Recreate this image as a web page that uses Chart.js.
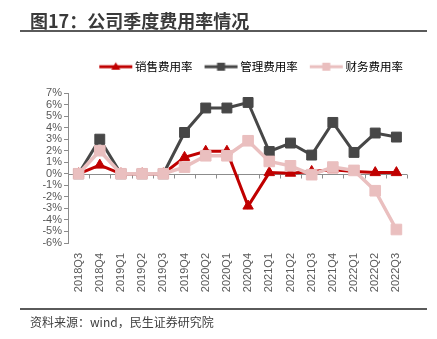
<!DOCTYPE html>
<html>
  <head>
    <meta charset="UTF-8" />
    <script src="https://cdn.jsdelivr.net/npm/chart.js"></script>
  </head>
  <style>
    body {
      margin: 0;
      background: #fff;
      font-family: "Noto Sans CJK SC", "Liberation Sans", sans-serif;
    }
    #wrap {
      position: relative;
      width: 437px;
      height: 339px;
      overflow: hidden;
    }
    #title {
      position: absolute;
      left: 30px;
      top: 8px;
      font-size: 18px;
      font-weight: bold;
      color: #3a3a3a;
      line-height: 24px;
    }
    .rule {
      position: absolute;
      left: 20px;
      width: 407px;
      height: 2px;
      background: #5a5a5a;
    }
    #source {
      position: absolute;
      left: 30px;
      top: 313px;
      font-size: 12px;
      color: #404040;
      line-height: 18px;
    }
    #chartBox {
      position: absolute;
      left: 0;
      top: 0;
      width: 437px;
      height: 339px;
    }
  </style>
  <body>
    <div id="wrap">
      <div id="chartBox"><canvas id="chartLine"></canvas></div>
      <div id="title">图17：公司季度费用率情况</div>
      <div class="rule" style="top: 30px"></div>
      <div class="rule" style="top: 308px"></div>
      <div id="source">资料来源：wind，民生证券研究院</div>
    </div>
    <script>
      const quarters = ["2018Q3", "2018Q4", "2019Q1", "2019Q2", "2019Q3", "2019Q4", "2020Q2", "2020Q1",
        "2020Q4", "2021Q1", "2021Q2", "2021Q3", "2021Q4", "2022Q1", "2022Q2", "2022Q3"];
      const salesRate = [0, 0.75, 0, 0, 0, 1.42, 1.95, 1.95, -2.8, 0.1, 0.05, 0.2, 0.35, 0.2, 0.1, 0.1];
      const adminRate = [0, 3.0, 0, 0, 0, 3.58, 5.7, 5.7, 6.18, 1.93, 2.66, 1.62, 4.45, 1.85, 3.53, 3.18];
      const financeRate = [0, 2.0, 0, 0, 0, 0.58, 1.56, 1.56, 2.86, 1.07, 0.69, -0.08, 0.58, 0.29, -1.47, -4.83];
      const seriesNames = ["销售费用率", "管理费用率", "财务费用率"];

      const red = "#c00000";
      const gray = "#474747";
      const pink = "#eabfbf";

      // little line + marker pictures for the legend
      const legendIcon = (color, shape) => {
        const c = document.createElement("canvas");
        c.width = 46;
        c.height = 14;
        const g = c.getContext("2d");
        g.strokeStyle = color;
        g.fillStyle = color;
        g.lineWidth = 3;
        g.beginPath();
        g.moveTo(12, 7);
        g.lineTo(45, 7);
        g.stroke();
        g.beginPath();
        if (shape == "triangle") {
          g.moveTo(28.5, 2.5);
          g.lineTo(33, 10);
          g.lineTo(24, 10);
          g.closePath();
        } else {
          g.rect(24.5, 3, 8, 8);
        }
        g.fill();
        return c;
      };

      const zeroAxis = {
        id: "zeroAxis",
        beforeDatasetsDraw(chart) {
          const x = chart.scales.x;
          const y0 = Math.round(chart.scales.y.getPixelForValue(0)) + 0.5;
          const ctx = chart.ctx;
          ctx.save();
          ctx.strokeStyle = "#8c8c8c";
          ctx.lineWidth = 1;
          ctx.beginPath();
          ctx.moveTo(x.left, y0);
          ctx.lineTo(x.right, y0);
          const step = (x.right - x.left) / quarters.length;
          for (let i = 0; i <= quarters.length; i++) {
            const px = Math.round(x.left + i * step) + 0.5;
            ctx.moveTo(px, y0);
            ctx.lineTo(px, y0 + 4);
          }
          ctx.stroke();
          ctx.restore();
        },
      };

      const legendSpace = {
        id: "legendSpace",
        afterInit(chart) {
          const fit = chart.legend.fit;
          chart.legend.fit = function () {
            fit.call(this);
            this.height = 36;
          };
        },
      };

      const chartData = {
        labels: quarters,
        datasets: [
          {
            label: seriesNames[0],
            data: salesRate,
            borderColor: red,
            backgroundColor: red,
            borderWidth: 3,
            pointStyle: "triangle",
            pointRadius: 6,
            pointBorderWidth: 1,
            order: 1,
          },
          {
            label: seriesNames[1],
            data: adminRate,
            borderColor: gray,
            backgroundColor: gray,
            borderWidth: 3,
            pointStyle: "rect",
            pointRadius: 7,
            pointBorderWidth: 1,
            order: 2,
          },
          {
            label: seriesNames[2],
            data: financeRate,
            borderColor: pink,
            backgroundColor: pink,
            borderWidth: 3.5,
            pointStyle: "rect",
            pointRadius: 7.5,
            pointBorderWidth: 1,
            order: 0,
          },
        ],
      };

      const icons = [legendIcon(red, "triangle"), legendIcon(gray, "rect"), legendIcon(pink, "rect")];

      const configLineChart = {
        type: "line",
        data: chartData,
        options: {
          responsive: false,
          animation: false,
          layout: { padding: { top: 57, right: 30, bottom: 46, left: 0 } },
          plugins: {
            tooltip: { enabled: false },
            legend: {
              position: "top",
              align: "end",
              labels: {
                usePointStyle: true,
                pointStyleWidth: 38,
                padding: 4,
                color: "#404040",
                font: { family: "Noto Sans CJK SC", size: 11.5 },
                generateLabels: (chart) =>
                  chart.data.datasets.map((ds, i) => ({
                    text: ds.label,
                    pointStyle: icons[i],
                    fillStyle: ds.borderColor,
                    strokeStyle: ds.borderColor,
                    lineWidth: 0,
                    datasetIndex: i,
                  })),
              },
            },
          },
          scales: {
            x: {
              offset: true,
              grid: { display: false, drawTicks: false, offset: true },
              border: { display: false },
              ticks: {
                autoSkip: false,
                minRotation: 90,
                maxRotation: 90,
                padding: 10,
                color: "#595959",
                font: { family: "Liberation Sans", size: 11 },
              },
              afterFit(scale) {
                scale.height = 50;
              },
            },
            y: {
              min: -6,
              max: 7,
              grid: {
                drawOnChartArea: false,
                tickLength: 4,
                color: "#8c8c8c",
              },
              border: { display: true, color: "#8c8c8c" },
              ticks: {
                stepSize: 1,
                autoSkip: false,
                padding: 2,
                color: "#595959",
                font: { family: "Liberation Sans", size: 11 },
                callback: (v) => v + "%",
              },
              afterFit(scale) {
                scale.width = 68;
              },
            },
          },
        },
        plugins: [zeroAxis, legendSpace],
      };

      const canvas = document.getElementById("chartLine");
      canvas.width = 437;
      canvas.height = 339;
      var chartLine = new Chart(canvas, configLineChart);
    </script>
  </body>
</html>
